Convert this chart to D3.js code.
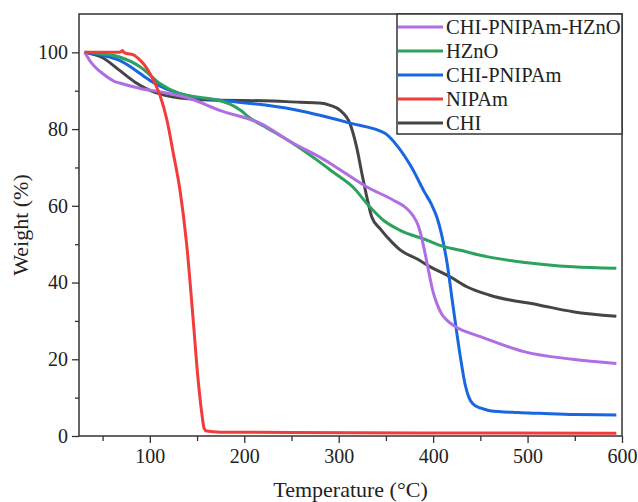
<!DOCTYPE html>
<html>

<head>
    <meta charset="utf-8">
    <style>
        body {
            margin: 0;
            background: #fff;
        }

        svg text {
            font-family: "Liberation Serif", "Times New Roman", serif;
        }

        .axis text {
            font-family: "Liberation Serif", "Times New Roman", serif;
            font-size: 20px;
            fill: #222;
        }

        .axis .domain {
            display: none;
        }

        .axis line {
            stroke: #333;
            stroke-width: 1.3;
        }

        .axis-label {
            font-size: 22px;
            fill: #222;
        }

        .legend text {
            font-size: 20.5px;
            fill: #222;
        }
    </style>
    <title>TGA curves</title>
</head>

<body>
    <svg width="638" height="502"></svg>

    <script src="https://d3js.org/d3.v7.min.js"></script>
    <script>
        // temperature (°C) and weight (%)
        let chiT = [31, 50, 68, 84, 100, 116, 132, 174, 220, 259, 280, 291, 301.5, 312, 319, 324.5, 329.8, 335, 344, 357.6, 365, 382.7, 397, 418, 435.7, 460, 513, 548, 594]
        let chiW = [100, 98.6, 95.3, 92.3, 90.1, 88.8, 88.1, 87.5, 87.4, 87.0, 86.8, 86.2, 84.9, 81.4, 75.3, 68.5, 62.3, 57.1, 54.0, 50.2, 48.5, 46.2, 44.1, 41.5, 38.9, 36.7, 34.1, 32.4, 31.2]

        let nipamT = [31, 50, 68, 70, 71, 72.5, 75.5, 82, 90, 97, 104, 111, 118, 125, 132, 139, 146, 151, 155, 157.5, 160, 175, 250, 400, 594]
        let nipamW = [100, 100, 100, 100.3, 100.5, 100, 99.7, 99.4, 97.9, 95.8, 92.7, 88.6, 82.5, 73.5, 64, 50, 30, 15, 6, 2, 1.3, 1.0, 0.9, 0.8, 0.7]

        let chiPnT = [31, 50, 68, 84, 100, 116, 132, 150, 174, 224, 259, 280, 313, 349, 363, 377, 391, 398, 404, 409, 414.5, 421, 428.6, 434, 438, 442, 450, 460, 490, 513, 550, 594]
        let chiPnW = [100, 99.2, 97.9, 95.5, 92.7, 90.6, 89.2, 88.2, 87.5, 86.2, 84.8, 83.6, 81.5, 78.9, 75.3, 70.1, 63.5, 60.5, 57, 52.5, 45.5, 34, 21, 13.3, 10, 8.4, 7.3, 6.6, 6.1, 5.9, 5.6, 5.5]

        let hznoT = [31, 50, 68, 90, 111, 132, 150, 171, 185, 196, 206, 224, 252, 280, 294, 315, 333, 347, 365, 394, 407, 429, 450, 495, 548, 594]
        let hznoW = [100, 99.6, 98.8, 96.2, 91.8, 89.2, 88.4, 87.6, 86.5, 84.9, 82.9, 80.3, 76.2, 71.4, 68.8, 64.9, 59.7, 56.3, 53.6, 51, 49.7, 48.4, 47.1, 45.3, 44.1, 43.7]

        let triT = [31, 36, 42, 50, 63, 68, 90, 111, 143, 174, 217, 252, 280, 294, 330, 357.6, 372, 379, 384, 388, 392, 396, 400, 404, 409, 414.5, 423, 450, 460, 496, 548, 594]
        let triW = [100, 98, 96.2, 94.5, 92.4, 92, 90.6, 89.7, 87.9, 84.9, 81.5, 76.3, 72.7, 70.6, 64.9, 61.5, 59.3, 57.3, 55, 51.5, 47, 42, 37.5, 34.5, 31.8, 30.2, 28.6, 25.9, 25, 22, 20, 18.9]

        let xTicks = [100, 200, 300, 400, 500, 600]
        let yTicks = [0, 20, 40, 60, 80, 100]

        let seriesNames = ["CHI-PNIPAm-HZnO", "HZnO", "CHI-PNIPAm", "NIPAm", "CHI"]
        let seriesColors = ["#b06de4", "#2ba35d", "#1866e0", "#f23b3b", "#454545"]

        let margin = { top: 14, right: 16, bottom: 66, left: 79 }
        let width = 638
        let height = 502

        let svg = d3.select("svg")

        let x = d3.scaleLinear()
            .domain([25, 600])
            .range([margin.left, width - margin.right])

        let y = d3.scaleLinear()
            .domain([0, 110])
            .range([height - margin.bottom, margin.top])

        let color = d3.scaleOrdinal()
            .domain(seriesNames)
            .range(seriesColors)

        // minor ticks first, then the labelled ones
        svg.append("g")
            .attr("class", "axis")
            .attr("transform", `translate(0,${height - margin.bottom})`)
            .call(d3.axisBottom(x).tickValues(d3.range(50, 600, 100)).tickSize(5).tickFormat(""))

        svg.append("g")
            .attr("class", "axis")
            .attr("transform", `translate(0,${height - margin.bottom})`)
            .call(d3.axisBottom(x).tickValues(xTicks).tickSize(7).tickPadding(6))

        svg.append("g")
            .attr("class", "axis")
            .attr("transform", `translate(${margin.left},0)`)
            .call(d3.axisLeft(y).tickValues(d3.range(10, 110, 20)).tickSize(4).tickFormat(""))

        svg.append("g")
            .attr("class", "axis")
            .attr("transform", `translate(${margin.left},0)`)
            .call(d3.axisLeft(y).tickValues(yTicks).tickSize(7).tickPadding(4))

        let series = [
            { name: "CHI", t: chiT, w: chiW },
            { name: "CHI-PNIPAm", t: chiPnT, w: chiPnW },
            { name: "HZnO", t: hznoT, w: hznoW },
            { name: "CHI-PNIPAm-HZnO", t: triT, w: triW },
            { name: "NIPAm", t: nipamT, w: nipamW }
        ]

        let line = d3.line()
            .x(d => x(d[0]))
            .y(d => y(d[1]))
            .curve(d3.curveMonotoneX)

        svg.append("g")
            .selectAll("path")
            .data(series)
            .join("path")
            .attr("fill", "none")
            .attr("stroke", d => color(d.name))
            .attr("stroke-width", 3)
            .attr("stroke-linejoin", "round")
            .attr("d", d => line(d.t.map((t, i) => [t, d.w[i]])))

        // frame
        svg.append("rect")
            .attr("x", margin.left)
            .attr("y", margin.top)
            .attr("width", width - margin.right - margin.left)
            .attr("height", height - margin.bottom - margin.top)
            .attr("fill", "none")
            .attr("stroke", "#333")
            .attr("stroke-width", 1.5)

        // legend
        let legend = svg.append("g").attr("class", "legend")

        legend.append("rect")
            .attr("x", 397)
            .attr("y", margin.top)
            .attr("width", width - margin.right - 397)
            .attr("height", 120)
            .attr("fill", "#fff")
            .attr("stroke", "#333")
            .attr("stroke-width", 1.5)

        let rows = legend.selectAll(".row")
            .data(seriesNames)
            .join("g")
            .attr("class", "row")
            .attr("transform", (d, i) => `translate(397,${27 + i * 24})`)

        rows.append("line")
            .attr("x1", 1)
            .attr("x2", 46)
            .attr("stroke", d => color(d))
            .attr("stroke-width", 3)

        rows.append("text")
            .attr("x", 49)
            .attr("dy", "0.35em")
            .text(d => d)

        svg.append("text")
            .attr("class", "axis-label")
            .attr("x", (margin.left + width - margin.right) / 2)
            .attr("y", 497)
            .attr("text-anchor", "middle")
            .text("Temperature (°C)")

        svg.append("text")
            .attr("class", "axis-label")
            .attr("transform", `translate(28,${(margin.top + height - margin.bottom) / 2}) rotate(-90)`)
            .attr("text-anchor", "middle")
            .text("Weight (%)")
    </script>
</body>

</html>
